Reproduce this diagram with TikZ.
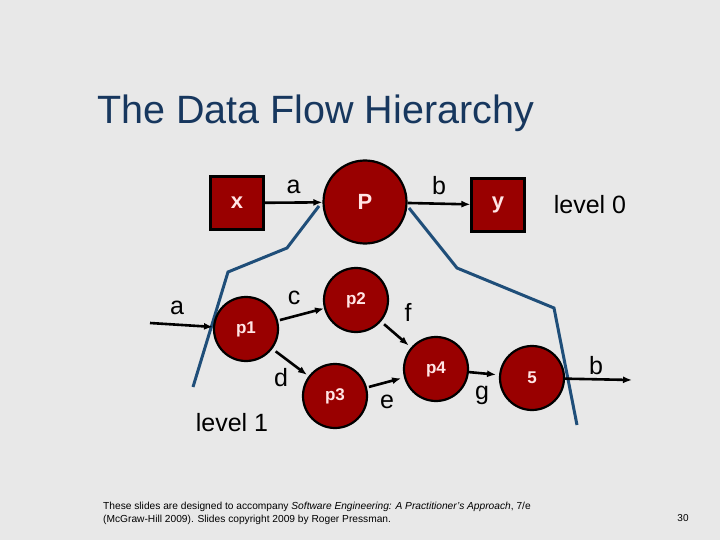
\documentclass[tikz,border=0pt]{standalone}
\usepackage{fontspec}
\setmainfont{Liberation Sans}
\usetikzlibrary{arrows.meta}
\definecolor{procred}{HTML}{990000}
\definecolor{titleblue}{HTML}{17375E}
\definecolor{cutblue}{HTML}{1F4E79}
\tikzset{
  proc/.style={circle, draw=black, line width=2.2pt, fill=procred, text=red!10, font=\fontsize{17}{17}\selectfont\bfseries, inner sep=0pt},
  ext/.style={rectangle, draw=black, line width=2.2pt, fill=procred, text=red!10, font=\fontsize{22}{22}\selectfont\bfseries, minimum size=53pt},
  flow/.style={-{Latex[length=9pt,width=7pt]}, line width=2.6pt},
  lab/.style={font=\fontsize{25}{25}\selectfont},
  cut/.style={cutblue, line width=3pt}
}
\begin{document}
\begin{tikzpicture}[x=1pt, y=-1pt]
	\fill[black!9] (0,0) rectangle (720,540);
	\useasboundingbox (0,0) rectangle (720,540);
	\node[anchor=west, text=titleblue, font=\fontsize{39.5}{40}\selectfont, inner sep=0pt] (title) at (97,113) {The Data Flow Hierarchy};
	% level 0
	\node[ext] (x) at (237,203) {x};
	\node[proc, minimum size=83pt, font=\fontsize{22}{22}\selectfont\bfseries] (P) at (365,202) {P};
	\node[ext] (y) at (498,205) {y};
	\draw[flow] (x) -- (P) node[lab, midway, above=4pt] (la) {a};
	\draw[flow] (P) -- (y) node[lab, midway, above=4pt] (lb) {b};
	\node[lab] (lvl0) at (590,205) {level 0};
	% boundary
	\draw[cut] (193,387) -- (228,272) -- (287,248) -- (319,206);
	\draw[cut] (409,208) -- (457,268) -- (554,308) -- (577,425);
	% level 1
	\node[proc, minimum size=64pt] (p1) at (246,329) {p1};
	\node[proc, minimum size=64pt] (p2) at (356,300) {p2};
	\node[proc, minimum size=64pt] (p3) at (335,396) {p3};
	\node[proc, minimum size=64pt] (p4) at (436,369) {p4};
	\node[proc, minimum size=64pt] (p5) at (532,378) {5};
	\coordinate (ain) at (150,323);
	\coordinate (bout) at (632,380);
	\draw[flow] (ain) -- (p1);
	\draw[flow, shorten <=2pt] (p1) -- (p2);
	\draw[flow, shorten <=4pt, shorten >=2pt] (p1) -- (p3);
	\draw[flow, shorten <=4pt, shorten >=3pt] (p2) -- (p4);
	\draw[flow, shorten <=2pt, shorten >=3pt] (p3) -- (p4);
	\draw[flow, shorten >=3pt] (p4) -- (p5);
	\draw[flow] (p5) -- (bout);
	\node[lab] (la1) at (177,308) {a};
	\node[lab] (lc) at (294,298) {c};
	\node[lab] (ld) at (281,378) {d};
	\node[lab] (lf) at (408,312) {f};
	\node[lab] (le) at (387,402) {e};
	\node[lab] (lg) at (482,395) {g};
	\node[lab] (lb1) at (596,366) {b};
	\node[lab] (lvl1) at (232,423) {level 1};
	% footer
	\node[anchor=north west, align=left, font=\fontsize{10.2}{13}\selectfont, inner sep=0pt] (foot) at (103,502)
	  {These slides are designed to accompany \textit{Software Engineering: A Practitioner's Approach}, 7/e\\(McGraw-Hill 2009). Slides copyright 2009 by Roger Pressman.};
	\node[font=\fontsize{10}{11}\selectfont] (page) at (683,518) {30};
\end{tikzpicture}
\end{document}
